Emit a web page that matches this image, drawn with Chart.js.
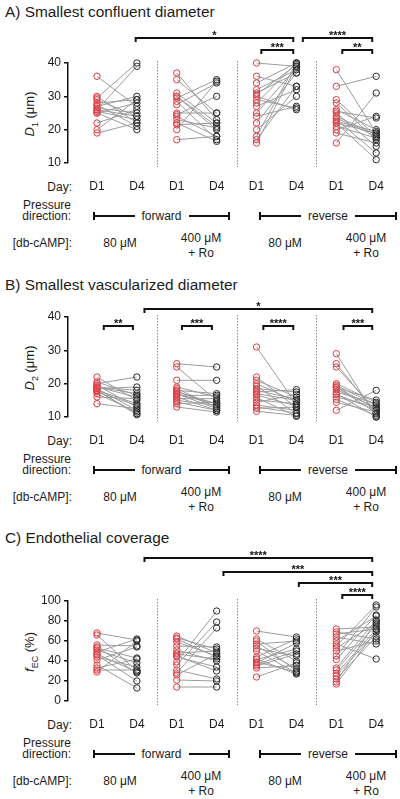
<!DOCTYPE html>
<html>
<head>
<meta charset="utf-8">
<script src="https://cdn.jsdelivr.net/npm/chart.js@4.4.1/dist/chart.umd.min.js"></script>
<style>
  body { margin: 0; background: #fff; }
  #page { position: relative; width: 400px; height: 799px; overflow: hidden; font-family: "Liberation Sans", Arial, sans-serif; color: #1c1c1c; }
  .t { position: absolute; white-space: nowrap; font-size: 12px; line-height: 14px; }
  .title { position: absolute; left: 5px; font-size: 15.4px; line-height: 18px; white-space: nowrap; }
  .box { position: absolute; left: 0; width: 400px; height: 197px; }
  .bar { position: absolute; height: 8px; display: flex; align-items: center; border-left: 2px solid #111; border-right: 2px solid #111; box-sizing: border-box; }
  .bar i { flex: 1; height: 2px; background: #111; }
  .bar span { font-size: 12px; padding: 0 7px; line-height: 12px; }
  .ytitle { position: absolute; left: 31px; font-size: 13px; white-space: nowrap; transform: translate(-50%, -50%) rotate(-90deg); }
</style>
</head>
<body>
<div id="page"></div>
<script>
// labels
const days = ['D1', 'D4'];
const directions = ['forward', 'reverse'];
const groupLabels = ['80 μM', '400 μM<br>+ Ro', '80 μM', '400 μM<br>+ Ro'];

// A) smallest confluent diameter (µm), paired D1 -> D4, one list per condition
const confD1 = [
  [36, 30, 29.5, 29, 28, 27.5, 27, 26.5, 26, 25.5, 25, 25, 22, 20, 19, 26],
  [37, 35, 31, 30, 29.5, 28.5, 27.5, 25, 24.5, 24, 23, 22, 21.5, 20, 17, 30],
  [40, 36, 34, 32, 31, 30.5, 30, 28, 27, 25, 24, 22, 20, 18, 17, 16, 29],
  [38, 33, 29, 28, 26, 25, 24, 23, 22.5, 22, 21, 20, 19, 16, 25.5, 23.5, 22]
];
const confD4 = [
  [27, 22, 40, 24, 29, 21, 30, 25, 39, 23, 28, 20, 26, 29, 22, 24],
  [23, 25, 22, 20, 35, 17, 34, 25, 30, 18, 20.5, 16.5, 22, 34.5, 18, 21],
  [39, 33, 40, 38, 37, 39.5, 26, 40, 32, 38.5, 27, 37, 30, 40, 33, 39, 26.5],
  [19, 36, 18, 17, 20, 15, 18.5, 13, 19.5, 11, 17.5, 24, 16, 31, 23.5, 18, 19]
];

// B) smallest vascularized diameter (µm)
const vascD1 = [
  [22, 20, 19.5, 19, 19, 18.5, 18.5, 18, 18, 17.5, 17, 16, 14, 19, 18, 20.5],
  [26, 25, 21, 19, 18.5, 18, 17.5, 17, 16.5, 16, 15.5, 15, 14.5, 14, 13, 17.8, 16.8],
  [31, 22, 21, 20, 19.3, 18.5, 18, 17.5, 16.6, 15.8, 15.1, 14.4, 13.6, 13, 12.6, 11.7, 17],
  [29, 26, 25, 20, 19.5, 19, 18.8, 18.2, 17.5, 16.8, 16, 15.3, 14.4, 12, 19, 17]
];
const vascD4 = [
  [15, 22, 13, 18, 16, 12, 19, 11, 14, 13.5, 11.5, 15.5, 12.5, 17, 10.7, 16.5],
  [25, 15, 21, 16, 13, 17, 14, 12.5, 16.5, 12, 15.5, 13.5, 12, 14.5, 11.5, 13, 14],
  [13.8, 12.8, 16, 14.6, 11, 17.5, 15.3, 18.2, 13.3, 10.2, 14, 16.8, 12, 11.2, 13, 10.5, 15],
  [10, 11, 12, 14.4, 13.6, 11.2, 15.1, 12.8, 14, 12.1, 13, 10.5, 11.5, 18, 12.5, 10]
];

// C) endothelial coverage (%)
const covD1 = [
  [68, 66, 56, 54, 53, 51, 49, 46, 44, 41, 36, 33, 31, 29, 47],
  [65, 63, 59, 55, 51, 48, 45, 39, 36, 31, 28, 21, 14, 62, 44, 47, 26],
  [70, 62, 60, 57, 55, 52.5, 50, 44, 41.5, 39, 36.6, 33, 24, 35, 38, 42],
  [72, 69, 67, 64, 57, 55, 53, 50, 45, 41.5, 33, 31, 27.5, 25, 22, 19, 17, 60]
];
const covD4 = [
  [61, 30, 55, 28, 43, 38, 62, 20, 34, 54, 13, 42, 31, 60, 29],
  [48, 52, 45, 54, 40, 50, 30, 90, 79, 22, 73, 20, 14, 44, 34, 42, 47],
  [64, 40, 30, 60, 32, 45, 28, 62, 52, 29, 50, 35.6, 38, 47, 58, 27],
  [74, 62, 72, 57, 42, 96, 78, 60, 94, 86, 81, 76.5, 71.6, 69, 64.4, 80, 70, 85]
];

// significance brackets: [from, to (x in category units), label, row]
const confSig = [[0.97, 4.92, '*', 0], [4.12, 4.92, '***', 1], [5.16, 6.9, '****', 0], [6.15, 6.9, '**', 1]];
const vascSig = [[1.19, 6.9, '*', 0], [0.17, 0.9, '**', 1], [2.13, 2.88, '***', 1], [4.17, 4.92, '****', 1], [6.18, 6.9, '***', 1]];
const covSig = [[1.19, 6.9, '****', 0], [3.17, 6.9, '***', 1], [5.06, 6.9, '***', 2], [6.15, 6.9, '****', 3]];

const RED = '#e23a40';
const BLACK = '#2a2a2a';
const page = document.getElementById('page');

function txt(html, x, y, align, cls, lh) {
  const d = document.createElement('div');
  d.className = cls || 't';
  d.innerHTML = html;
  if (lh) d.style.lineHeight = lh + 'px';
  d.style.top = y + 'px';
  if (align === 'right') {
    d.style.right = (400 - x) + 'px';
    d.style.textAlign = 'right';
    d.style.transform = 'translateY(-50%)';
  } else {
    d.style.left = x + 'px';
    d.style.textAlign = 'center';
    d.style.transform = 'translate(-50%, -50%)';
  }
  page.appendChild(d);
}

function bar(label, left, width, y) {
  const d = document.createElement('div');
  d.className = 'bar';
  d.style.left = left + 'px';
  d.style.width = width + 'px';
  d.style.top = (y - 4) + 'px';
  d.innerHTML = '<i></i><span>' + label + '</span><i></i>';
  page.appendChild(d);
}

function makePanel(p) {
  const top = p.top;

  const t = document.createElement('div');
  t.className = 'title';
  t.textContent = p.title;
  t.style.top = (p.titleY - 9) + 'px';
  page.appendChild(t);

  const yt = document.createElement('div');
  yt.className = 'ytitle';
  yt.innerHTML = p.yTitle;
  yt.style.top = (top + 51) + 'px';
  page.appendChild(yt);

  // rows under the axis
  txt('Day:', 72, top + 124, 'right');
  txt('Pressure<br>direction:', 71, top + 147.5, 'right', 't', 11);
  bar(directions[0], 93, 137, top + 153);
  bar(directions[1], 259, 138, top + 153);
  txt('[db-cAMP]:', 72, top + 180, 'right');
  [120, 201, 285, 366].forEach((x, i) => txt(groupLabels[i], x, top + 182.5 - (i % 2 ? 0 : 2.5), 'center', 't', 15));

  const box = document.createElement('div');
  box.className = 'box';
  box.style.top = (top - 60) + 'px';
  const cv = document.createElement('canvas');
  box.appendChild(cv);
  page.appendChild(box);

  const datasets = [];
  p.d1.forEach((grp, g) => grp.forEach((v, i) => {
    datasets.push({
      data: [{ x: 2 * g, y: v }, { x: 2 * g + 1, y: p.d4[g][i] }],
      borderColor: '#9c9c9c',
      borderWidth: 1,
      pointRadius: 3.2,
      pointBorderWidth: 1,
      pointBorderColor: [RED, BLACK],
      pointBackgroundColor: 'rgba(0,0,0,0)',
      clip: false
    });
  }));

  const marks = {
    id: 'marks',
    beforeDatasetsDraw(chart) {
      const ctx = chart.ctx, xs = chart.scales.x, a = chart.chartArea;
      ctx.save();
      ctx.strokeStyle = '#8a8a8a';
      ctx.lineWidth = 1;
      ctx.setLineDash([1.5, 1.5]);
      [1.5, 3.5, 5.5].forEach(v => {
        const x = Math.round(xs.getPixelForValue(v)) + 0.5;
        ctx.beginPath();
        ctx.moveTo(x, a.top - 2);
        ctx.lineTo(x, a.bottom + 4);
        ctx.stroke();
      });
      ctx.restore();
    },
    afterDraw(chart) {
      const ctx = chart.ctx, xs = chart.scales.x, a = chart.chartArea;
      ctx.save();
      ctx.strokeStyle = '#111';
      ctx.fillStyle = '#111';
      ctx.lineWidth = 2;
      ctx.font = 'bold 11px "Liberation Sans", Arial, sans-serif';
      ctx.textAlign = 'center';
      ctx.textBaseline = 'alphabetic';
      p.sig.forEach(([x1, x2, label, row]) => {
        const y = Math.round(a.top - p.rows[row]);
        const X1 = xs.getPixelForValue(x1), X2 = xs.getPixelForValue(x2);
        ctx.beginPath();
        ctx.moveTo(X1, y + 4);
        ctx.lineTo(X1, y);
        ctx.lineTo(X2, y);
        ctx.lineTo(X2, y + 4);
        ctx.stroke();
        ctx.fillText(label, (X1 + X2) / 2, y + 1);
      });
      ctx.restore();
    }
  };

  new Chart(cv, {
    type: 'line',
    data: { datasets },
    options: {
      responsive: true,
      maintainAspectRatio: false,
      animation: false,
      events: [],
      layout: { padding: { top: 60, left: 0, right: 4.7, bottom: 0 } },
      plugins: { legend: { display: false }, tooltip: { enabled: false } },
      scales: {
        x: {
          type: 'linear',
          min: -0.727,
          max: 7.2,
          grid: { display: false, drawTicks: false },
          border: { display: false },
          ticks: {
            stepSize: 1,
            includeBounds: false,
            autoSkip: false,
            maxRotation: 0,
            padding: 16,
            color: '#1c1c1c',
            font: { size: 12 },
            callback: v => (Number.isInteger(v) && v >= 0 && v <= 7) ? days[v % 2] : ''
          },
          afterFit: s => { s.height = 37; }
        },
        y: {
          min: p.min,
          max: p.max,
          grid: { display: true, drawOnChartArea: false, drawTicks: true, tickLength: 4, color: '#111', lineWidth: 1.5 },
          border: { display: true, color: '#111', width: 1.5 },
          ticks: { stepSize: p.step, padding: 3, color: '#1c1c1c', font: { size: 12 } },
          afterFit: s => { s.width = 68; }
        }
      }
    },
    plugins: [marks]
  });
}

Chart.defaults.font.family = '"Liberation Sans", Arial, sans-serif';

makePanel({
  title: 'A) Smallest confluent diameter', titleY: 12, top: 63,
  yTitle: '<i>D</i><sub style="font-size:9px">1</sub> (μm)',
  d1: confD1, d4: confD4, min: 10, max: 40, step: 10,
  sig: confSig, rows: [25, 13]
});
makePanel({
  title: 'B) Smallest vascularized diameter', titleY: 285, top: 317,
  yTitle: '<i>D</i><sub style="font-size:9px">2</sub> (μm)',
  d1: vascD1, d4: vascD4, min: 10, max: 40, step: 10,
  sig: vascSig, rows: [8, -9]
});
makePanel({
  title: 'C) Endothelial coverage', titleY: 538, top: 601,
  yTitle: '<i>f</i><sub style="font-size:9px">EC</sub> (%)',
  d1: covD1, d4: covD4, min: 0, max: 100, step: 20,
  sig: covSig, rows: [43, 29, 18, 6]
});
</script>
</body>
</html>
